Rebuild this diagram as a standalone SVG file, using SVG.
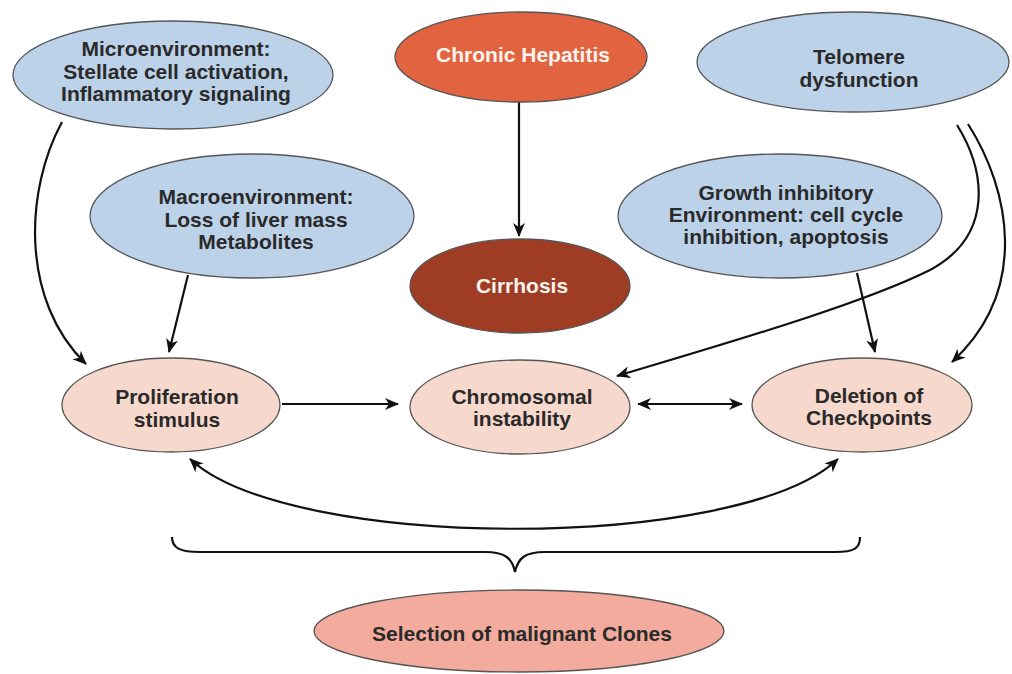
<svg xmlns="http://www.w3.org/2000/svg" width="1012" height="674" viewBox="0 0 1012 674">
<style>
.n{stroke:#555;stroke-width:1.3}
.blue{fill:#bcd2e9}
.pink{fill:#f7d8cd}
.t{font-family:"Liberation Sans",Arial,sans-serif;font-weight:bold;font-size:21px;fill:#2a2a2a;text-anchor:middle}
.w{fill:#fbf3ee}
.c{fill:none;stroke:#111;stroke-width:2.2}
</style>
<defs>
<marker id="ah" markerUnits="userSpaceOnUse" markerWidth="16" markerHeight="14" refX="13" refY="6" orient="auto-start-reverse" viewBox="0 0 16 12">
<path d="M0,0 L14,6 L0,12 L4,6 z" fill="#111"/>
</marker>
</defs>
<rect width="1012" height="674" fill="#fff"/>
<g id="connectors">
<path class="c" d="M62,122 C25,190 20,300 86,364" marker-end="url(#ah)"/>
<path class="c" d="M188,275 L169,352" marker-end="url(#ah)"/>
<path class="c" d="M519,102 L519,236" marker-end="url(#ah)"/>
<path class="c" d="M957,125 C985,170 995,235 930,270 C860,305 720,345 617,376" marker-end="url(#ah)"/>
<path class="c" d="M968,124 C1010,190 1030,290 952,362" marker-end="url(#ah)"/>
<path class="c" d="M857,273 L875,352" marker-end="url(#ah)"/>
<path class="c" d="M282,404 L398,404" marker-end="url(#ah)"/>
<path class="c" d="M638,404 L742,404" marker-start="url(#ah)" marker-end="url(#ah)"/>
<path class="c" d="M190,459 C290,552 740,552 838,459" marker-start="url(#ah)" marker-end="url(#ah)"/>
<path class="c" d="M172,537 C172,548 180,552 200,552 L485,552 C505,552 512,558 515,572 C518,558 525,552 545,552 L835,552 C855,552 860,548 860,537"/>
</g>
<g id="microenvironment">
<ellipse class="n blue" cx="173" cy="75" rx="160" ry="54"/>
<text class="t" x="176" y="56">Microenvironment:</text>
<text class="t" x="176" y="79">Stellate cell activation,</text>
<text class="t" x="176" y="101">Inflammatory signaling</text>
</g>
<g id="chronic-hepatitis">
<ellipse class="n" fill="#e2633f" cx="521" cy="57" rx="126" ry="45"/>
<text class="t w" x="523" y="62">Chronic Hepatitis</text>
</g>
<g id="telomere">
<ellipse class="n blue" cx="853" cy="62" rx="156" ry="50"/>
<text class="t" x="859" y="64">Telomere</text>
<text class="t" x="859" y="87">dysfunction</text>
</g>
<g id="macroenvironment">
<ellipse class="n blue" cx="252" cy="216" rx="162" ry="62"/>
<text class="t" x="256" y="204">Macroenvironment:</text>
<text class="t" x="256" y="227">Loss of liver mass</text>
<text class="t" x="256" y="249">Metabolites</text>
</g>
<g id="cirrhosis">
<ellipse class="n" fill="#9e3d24" cx="520" cy="286" rx="110" ry="47"/>
<text class="t w" x="522" y="293">Cirrhosis</text>
</g>
<g id="growth-inhibitory">
<ellipse class="n blue" cx="780" cy="216" rx="162" ry="62"/>
<text class="t" x="786" y="200">Growth inhibitory</text>
<text class="t" x="786" y="222">Environment: cell cycle</text>
<text class="t" x="786" y="244">inhibition, apoptosis</text>
</g>
<g id="proliferation">
<ellipse class="n pink" cx="171" cy="405" rx="109" ry="47"/>
<text class="t" x="177" y="404">Proliferation</text>
<text class="t" x="177" y="427">stimulus</text>
</g>
<g id="chromosomal">
<ellipse class="n pink" cx="520" cy="407" rx="110" ry="47"/>
<text class="t" x="522" y="404">Chromosomal</text>
<text class="t" x="522" y="426">instability</text>
</g>
<g id="deletion">
<ellipse class="n pink" cx="862" cy="405" rx="110" ry="47"/>
<text class="t" x="869" y="403">Deletion of</text>
<text class="t" x="869" y="425">Checkpoints</text>
</g>
<g id="selection">
<ellipse class="n" fill="#f2ab9c" cx="519" cy="631" rx="205" ry="41"/>
<text class="t" x="522" y="641">Selection of malignant Clones</text>
</g>
</svg>
